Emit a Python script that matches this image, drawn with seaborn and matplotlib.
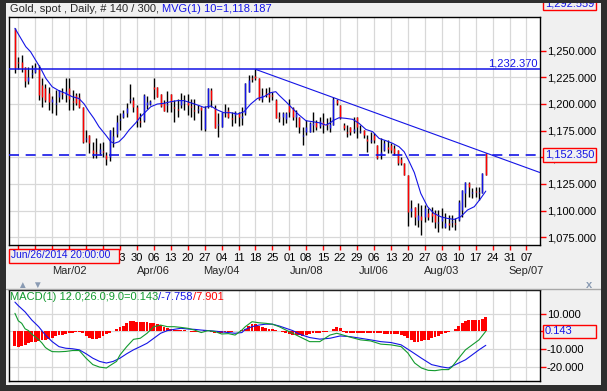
import matplotlib
matplotlib.use('Agg')
import numpy as np
import pandas as pd
import seaborn as sns
import matplotlib.pyplot as plt
from matplotlib.patches import Rectangle
from matplotlib.lines import Line2D

# ---- price bars (index 0 = Feb 09, one step per trading day) ----
bar_idx = list(range(-1, 139))
opens = [1270, 1239, 1239.5, 1235, 1221, 1228, 1230, 1233, 1217.6, 1214.5,
         1210, 1202, 1200, 1206.7, 1210, 1208, 1214.5, 1203, 1208, 1206.7,
         1197.3, 1167, 1170.8, 1156.7, 1155, 1153.6, 1156, 1152, 1150.4, 1165,
         1172, 1185, 1188, 1191, 1204, 1203.6, 1197.3, 1184, 1184.8, 1199,
         1200, 1216, 1215.4, 1209.2, 1201, 1199, 1209, 1197, 1195, 1198.9,
         1201, 1202, 1198, 1194, 1194, 1197, 1176, 1197.3, 1213, 1195.8,
         1180, 1178.6, 1193, 1194.2, 1187, 1189.5, 1191, 1187, 1191, 1211.4,
         1224, 1226, 1224, 1205, 1210, 1209, 1208, 1204, 1188, 1188,
         1186, 1198.9, 1195.8, 1188, 1188, 1170, 1174, 1173.9, 1180, 1183,
         1179, 1183, 1181, 1177, 1180, 1203.6, 1198.9, 1180, 1174, 1178.6,
         1175, 1188, 1174, 1175.5, 1167, 1165, 1171, 1161.4, 1152, 1156.7,
         1160, 1161, 1158.3, 1156.7, 1148, 1144.2, 1133.3, 1100, 1103.6, 1091.1,
         1094.8, 1094.2, 1097.3, 1098, 1097.3, 1088, 1090, 1084.8, 1088, 1089,
         1088, 1091.1, 1100.5, 1116.1, 1125.5, 1116, 1118, 1116, 1116.1, 1153.6]
highs = [1271, 1244, 1246, 1235, 1235, 1236, 1238, 1236, 1224, 1219,
         1216, 1207, 1213, 1213, 1214.5, 1224, 1224, 1213, 1210, 1210,
         1197.3, 1175.5, 1171, 1164.5, 1167.6, 1163, 1164.5, 1155, 1175.5, 1178.6,
         1189.5, 1191, 1194, 1200.5, 1219, 1206.7, 1199, 1191, 1209, 1207,
         1203.5, 1224.5, 1215.5, 1209.2, 1203.6, 1212, 1209.2, 1203.6, 1205, 1209.8,
         1208.3, 1209.2, 1205, 1205, 1198.9, 1197.3, 1198, 1215, 1214.5, 1198.9,
         1191, 1192.6, 1199.8, 1197.3, 1192.6, 1193.3, 1192.6, 1197.3, 1219.5, 1227,
         1227, 1232.4, 1224, 1214.5, 1214.5, 1215.4, 1211.4, 1205, 1192.6, 1192.6,
         1192.6, 1205, 1197.3, 1194.2, 1188, 1178.6, 1184.8, 1183.3, 1192.6, 1184.8,
         1188, 1191, 1186.4, 1188, 1206.7, 1205, 1198.9, 1181.7, 1180, 1178.6,
         1188, 1188, 1180, 1175.5, 1170.8, 1173.9, 1172.3, 1161.4, 1167.6, 1166,
         1166, 1163, 1161.4, 1156.7, 1150.4, 1144.2, 1133.3, 1109.8, 1103.6, 1106.7,
         1105.1, 1105.1, 1102, 1103.6, 1100.5, 1100.5, 1102, 1097.3, 1095.8, 1095.8,
         1092.6, 1109.8, 1119.2, 1127, 1127, 1120.8, 1122.3, 1122.3, 1134.8, 1153.6]
lows = [1229, 1233, 1230, 1216, 1219, 1224, 1229, 1203.6, 1197, 1202,
        1194, 1191, 1189.5, 1202, 1205, 1202, 1194, 1194, 1199, 1195.8,
        1163.5, 1164.5, 1153.6, 1149, 1149, 1152, 1150.4, 1142.7, 1146, 1159.8,
        1169.2, 1175.5, 1186.4, 1188, 1200.5, 1192.6, 1178.6, 1178.6, 1183, 1194.8,
        1199, 1205, 1206.5, 1197.3, 1193, 1192.6, 1192.6, 1182.6, 1188, 1195.8,
        1194.2, 1189.5, 1188, 1184.8, 1191, 1175.5, 1175, 1195.8, 1197.3, 1177,
        1169.2, 1178, 1188, 1186.4, 1179.2, 1181.7, 1179.2, 1180, 1190, 1211.4,
        1220.8, 1222, 1203.6, 1202, 1206.7, 1202, 1203.6, 1186.4, 1183, 1180.1,
        1181.7, 1188, 1184.8, 1178.6, 1172.3, 1161.4, 1170.8, 1173.9, 1173.9, 1175.5,
        1177, 1172.3, 1175.5, 1173.9, 1180, 1198.9, 1186, 1175.5, 1169.2, 1170.8,
        1172.3, 1167.6, 1172.3, 1167.6, 1155.1, 1163, 1163, 1148, 1148, 1156,
        1153.6, 1153.6, 1152, 1142.7, 1142.7, 1133, 1085.4, 1094.2, 1086.4, 1084.8,
        1077, 1089.5, 1091.1, 1089.5, 1083.3, 1080.1, 1083.3, 1083.3, 1081.7, 1084.8,
        1081.7, 1090, 1094.2, 1103.6, 1113, 1111.4, 1113, 1109.8, 1116, 1133.3]
closes = [1234, 1238, 1233.3, 1221, 1225.5, 1229, 1235, 1208, 1206.7, 1203.6,
          1202, 1205, 1201, 1213, 1209, 1212, 1205, 1202, 1200.5, 1197.3,
          1164.5, 1168, 1163, 1153.6, 1154, 1158, 1155, 1148, 1175.5, 1170,
          1183, 1186, 1191, 1196, 1205, 1197.3, 1184.8, 1183, 1208.3, 1202,
          1202.6, 1213.6, 1206.7, 1198, 1193.3, 1200, 1202, 1196, 1194, 1203.6,
          1202, 1198.9, 1197, 1193, 1195, 1194, 1196, 1214.5, 1203.6, 1177,
          1181, 1192.6, 1194, 1188, 1186, 1192, 1188, 1189, 1219.2, 1222.3,
          1223, 1224, 1205, 1208, 1209, 1206, 1207, 1187, 1187, 1191,
          1191, 1192.6, 1188, 1191, 1178.6, 1171, 1178, 1181.7, 1182, 1178,
          1184, 1180, 1180, 1181, 1205, 1200.5, 1186.4, 1177, 1173, 1173.9,
          1176, 1178.6, 1175, 1170.8, 1165, 1166, 1166, 1148.9, 1155, 1163,
          1158, 1157, 1153.6, 1144.2, 1145, 1133.3, 1098.9, 1102, 1094.2, 1095.8,
          1091.1, 1102, 1094.2, 1095, 1089.5, 1089, 1094, 1088, 1086.4, 1090,
          1087, 1108.3, 1119.2, 1127, 1122.3, 1117, 1117, 1117, 1134.8, 1133.3]

# 10 period moving average
ma_idx = [-1, 2.2, 3.6, 5.1, 6.6, 8.1, 10, 12, 14, 15.9,
          17.9, 19.4, 20.9, 22.3, 23.8, 25.8, 27.3, 28.3, 29.7, 31.2,
          32.7, 34.7, 36.1, 37.1, 39.1, 41, 43, 45, 47, 48.9,
          50.9, 52.9, 54.8, 56.8, 58.8, 60.7, 62.7, 64.7, 66.6, 68.6,
          70.6, 72.5, 74.5, 76, 77, 79, 80.9, 82.9, 84.9, 86.8,
          88.8, 90.8, 91.8, 93.2, 94.7, 96.7, 98.7, 100.6, 102.6, 104.6,
          106.5, 108.5, 110.5, 112.4, 113.9, 115.4, 116.9, 118.8, 120.8, 122.7,
          124.7, 126.7, 128.7, 130.6, 132.6, 134.6, 136.5, 138]
ma_val = [1270.8, 1253.6, 1248.9, 1241, 1233.3, 1224, 1216, 1212.3, 1209.8, 1206.7,
          1205, 1200, 1192.6, 1186.4, 1178.6, 1170.8, 1164.5, 1163, 1164.5, 1169.2,
          1175.5, 1182.3, 1188, 1191, 1197.3, 1199.8, 1200.5, 1202, 1203, 1203,
          1201, 1198.9, 1196.7, 1198, 1194.2, 1191.7, 1191.7, 1190.4, 1192.6, 1199.8,
          1205.1, 1206.7, 1210.5, 1211.4, 1208, 1202, 1195.8, 1189.5, 1184.2, 1183.3,
          1182.3, 1180.1, 1181.7, 1184.8, 1187, 1186.4, 1185.5, 1181.7, 1176, 1173.9,
          1167.6, 1165.5, 1163, 1159.8, 1155.1, 1145.8, 1135.6, 1116.1, 1103.6, 1097.3,
          1094.2, 1092.6, 1091.7, 1094.2, 1100.5, 1103.6, 1111.4, 1118.2]

trend_idx = [70, 154]
trend_val = [1232.37, 1135.6]
resist_level = 1232.37
last_price = 1152.35

price_ticks = [1075, 1100, 1125, 1150, 1175, 1200, 1225, 1250]
week_idx = list(range(0, 151, 5))
# the first six week labels sit under the date box, so they are left blank
week_labels = ['', '', '', '', '', '', '23', '30', '06', '13', '20', '27',
               '04', '11', '18', '25', '01', '08', '15', '22', '29', '06', '13', '20',
               '27', '03', '10', '17', '24', '31', '07']
month_idx = [15, 40, 60, 85, 105, 125, 150]
month_labels = ['Mar/02', 'Apr/06', 'May/04', 'Jun/08', 'Jul/06', 'Aug/03', 'Sep/07']

# ---- MACD panel ----
hist_val = [-8, -8.5, -8, -7.5, -6.5, -6, -6, -5.5, -5, -4.5,
            -4, -3.5, -2.5, -2, -2, -1.5, -1, -1, -0.5, -0.5,
            -1, -2.5, -3.5, -4, -4, -3.5, -2.5, -1.5, -1, 0.3,
            1.5, 2.5, 3, 5, 6, 6, 5.5, 5.5, 5.5, 5.5,
            5, 4.5, 4, 3.5, 2.5, 2, 1.5, 1, 1, 1,
            0.8, 0.5, -0.5, -0.5, -0.5, 0.5, 0.8, 0.5, -0.3, -1,
            -1, -1, -0.5, -0.5, -0.3, 0.3, 0.5, 1, 1.5, 3,
            4, 4, 3, 2.5, 2, 1.5, 1.2, 1, 0.5, -0.5,
            -1, -1.5, -2, -2, -2, -2.5, -2, -1.5, -1, -0.8,
            -0.8, -0.5, -0.5, 0.5, 1.5, 2.5, 2, -0.5, -0.8, -1,
            -1, -1, -1, -1, -1, -1, -1, -1, -1, -1.2,
            -1.2, -1.2, -1.5, -1.5, -2, -2.5, -3.5, -5, -6, -6,
            -5.5, -5, -4.5, -3.5, -3, -2.5, -1.5, -1, -0.5, 0.5,
            1.5, 3, 5, 6, 6.5, 6.5, 6.5, 6.5, 7, 7.9]
macd_idx = [-1, 0, 1, 2, 3, 4, 5, 6, 7, 8,
            9, 10, 12, 14, 16, 18, 20, 22, 24, 26,
            27, 29, 30, 32, 34, 36, 38, 40, 42, 44,
            46, 48, 50, 52, 54, 56, 58, 60, 62, 64,
            66, 67, 69, 71, 73, 75, 77, 79, 81, 83,
            86, 89, 92, 94, 95, 98, 101, 104, 107, 110,
            113, 115, 117, 119, 121, 123, 125, 127, 128, 130,
            132, 134, 136, 138]
macd_val = [10.2, 6, 4.6, 1.5, 0.5, -1.5, -3, -4.5, -6.5, -9,
            -10.3, -11.3, -11.4, -11.2, -10.7, -10.7, -15, -18.6, -20, -20.5,
            -19.2, -16.8, -13.2, -8.5, -4.4, -3.8, -1, 2.7, 3.6, 2.7,
            2.7, 2.3, 1.8, 0.8, -0.6, 0.5, 0, -1.4, -1.2, -2,
            0.8, 2.7, 5.5, 4.9, 4.6, 4.1, 2.7, 0.8, -1, -2.9,
            -5.7, -5.7, -2, -1, -1.5, -3.2, -4.7, -5.3, -7.1, -7.5,
            -8.5, -12.1, -17.7, -20.5, -21.8, -22, -21.4, -21.4, -19.9, -15,
            -10.3, -7.5, -4.7, 0.143]
sig_idx = [-1, 0, 2, 4, 6, 8, 10, 12, 14, 16,
           18, 20, 22, 24, 26, 28, 30, 32, 34, 36,
           38, 40, 42, 44, 46, 48, 50, 52, 54, 56,
           58, 60, 62, 64, 66, 67, 69, 71, 73, 75,
           77, 79, 81, 83, 86, 89, 92, 95, 98, 101,
           104, 107, 110, 113, 116, 119, 122, 125, 127, 128,
           130, 132, 134, 136, 138]
sig_val = [16.5, 14.5, 11, 6.4, 2.7, -2, -5.7, -8.5, -9.4, -9.7,
           -10.3, -12.5, -15, -16.8, -17.7, -16.8, -15, -12.5, -10.3, -8.5,
           -6.6, -3.8, -1, 0.5, 1.2, 1.8, 1.4, 1.2, 0.8, 0.5,
           0.2, -0.2, -0.6, -1, -0.6, 1.2, 2.7, 3.6, 4.1, 4.1,
           3.1, 1.8, 0.5, -1.5, -3.4, -4.3, -3.8, -2.5, -2.9, -3.8,
           -4.7, -5.7, -6.2, -7.5, -11.2, -15, -18.6, -19.9, -20.5, -19.6,
           -17.7, -15.9, -13.1, -10.3, -7.758]
macd_ticks = [-20, -10, 0, 10]

BG = '#f0f0f0'
BLUE = '#1414e6'
GREEN = '#129a2e'
GRID = '#d8d8d8'
FS = 8

sns.set_style('white')
plt.rcParams['font.family'] = ['Liberation Sans', 'DejaVu Sans']

W, H = 607, 391


def fx(px):
    return px / W


def fy(py):
    return 1 - py / H


fig = plt.figure(figsize=(W / 100, H / 100), dpi=100, facecolor=BG)

# ---------------- price panel ----------------
ax = fig.add_axes([fx(9), fy(245), 531 / W, 228 / H])
ax.set_facecolor('white')
ax.set_xlim(-2.75, 154.0)
ax.set_ylim(1067.7, 1281.4)
ax.set_xticks(week_idx)
ax.set_xticklabels(week_labels)
ax.set_yticks(price_ticks)
ax.set_yticklabels(['{:,.3f}'.format(v) for v in price_ticks])
ax.yaxis.tick_right()
ax.tick_params(axis='x', bottom=True, colors='red', labelcolor='black',
               length=3.5, width=1, labelsize=FS, pad=2)
ax.tick_params(axis='y', right=True, left=False, colors='red', labelcolor='black',
               length=4, width=1, labelsize=FS, pad=0.8)
ax.grid(True, color=GRID, lw=0.9)
ax.set_axisbelow(True)
for s in ax.spines.values():
    s.set_color('black')
    s.set_linewidth(1)

df = pd.DataFrame({'idx': bar_idx, 'open': opens, 'high': highs,
                   'low': lows, 'close': closes})
body_colors = np.where(df['close'] >= df['open'], BLUE, 'red')
ax.vlines(df['idx'], df['low'], df['high'], color='black', lw=1.0, zorder=2)
ax.vlines(df['idx'], df['open'], df['close'], colors=body_colors, lw=1.0, zorder=3)

sns.lineplot(x=ma_idx, y=ma_val, ax=ax, color=BLUE, lw=0.8, sort=False, zorder=4)
sns.lineplot(x=trend_idx, y=trend_val, ax=ax, color=BLUE, lw=0.8, sort=False, zorder=4)
ax.axhline(resist_level, color=BLUE, lw=1.1, zorder=4)
ax.axhline(last_price, color=BLUE, lw=1.2, ls=(0, (6, 4)), zorder=4)
ax.set_xlabel('')
ax.set_ylabel('')
ax.text(0.996, resist_level + 0.8, '{:,.3f}'.format(resist_level), color=BLUE,
        transform=ax.get_yaxis_transform(), ha='right', va='bottom', fontsize=FS)

for i, lab in zip(month_idx, month_labels):
    ax.text(i, -0.114, lab, transform=ax.get_xaxis_transform(), ha='center',
            va='center', fontsize=FS)

# ---------------- MACD panel ----------------
ax2 = fig.add_axes([fx(9), fy(381), 531 / W, 91 / H])
ax2.set_facecolor('white')
ax2.set_xlim(-2.75, 154.0)
ax2.set_ylim(-27.8, 23.3)
ax2.set_xticks(week_idx)
ax2.set_xticklabels([])
ax2.set_yticks(macd_ticks)
ax2.set_yticklabels(['{:.3f}'.format(v) for v in macd_ticks])
ax2.yaxis.tick_right()
ax2.tick_params(axis='x', length=0)
ax2.tick_params(axis='y', right=True, left=False, colors='red', labelcolor='black',
                length=4, width=1, labelsize=FS, pad=0.8)
ax2.grid(True, color=GRID, lw=0.9)
ax2.set_axisbelow(True)
for s in ax2.spines.values():
    s.set_color('black')
    s.set_linewidth(1)

ax2.bar(bar_idx, hist_val, width=0.85, color='red', lw=0, zorder=2)
sns.lineplot(x=sig_idx, y=sig_val, ax=ax2, color=BLUE, lw=0.8, sort=False, zorder=3)
sns.lineplot(x=macd_idx, y=macd_val, ax=ax2, color=GREEN, lw=0.8, sort=False, zorder=3)
ax2.set_xlabel('')
ax2.set_ylabel('')

# ---------------- header texts ----------------
t1 = fig.text(fx(10), fy(9), 'Gold, spot , Daily, # 140 / 300, ', fontsize=FS,
              va='center', ha='left')
ax.annotate('MVG(1) 10=1,118.187', xy=(1, 0), xycoords=t1, va='bottom', ha='left',
            color=BLUE, fontsize=FS, annotation_clip=False)

t3 = fig.text(fx(10), fy(297), 'MACD(1) 12.0;26.0;9.0=0.143', fontsize=FS,
              color=GREEN, va='center', ha='left', zorder=6)
t4 = ax2.annotate('/-7.758', xy=(1, 0), xycoords=t3, va='bottom', ha='left',
                  color=BLUE, fontsize=FS, annotation_clip=False)
ax2.annotate('/7.901', xy=(1, 0), xycoords=t4, va='bottom', ha='left',
             color='red', fontsize=FS, annotation_clip=False)


def boxed(x0, y0, x1, y1, text, color, size=FS):
    fig.patches.append(Rectangle((fx(x0), fy(y1)), (x1 - x0) / W, (y1 - y0) / H,
                                 transform=fig.transFigure, facecolor=BG,
                                 edgecolor='red', lw=1.0, zorder=5))
    fig.text(fx(x0 + 2), fy((y0 + y1) / 2), text, color=color, fontsize=size,
             ha='left', va='center', zorder=6)


boxed(543, -4, 596, 10, '1,292.559', BLUE)
boxed(543, 147.5, 596, 161.5, '{:,.3f}'.format(last_price), BLUE)
boxed(543, 324.5, 596, 338, '0.143', BLUE)
boxed(9, 248.5, 119, 262.5, 'Jun/26/2014 20:00:00', BLUE, size=7.4)

# splitter between the panels
fig.add_artist(Line2D([fx(6), fx(601)], [fy(289), fy(289)], color='#a8a8a8', lw=1))
fig.text(fx(22), fy(284.5), '\u25b2', color='#8a9bb3', fontsize=7, ha='center', va='center')
fig.text(fx(37), fy(284.5), '\u25bc', color='#8a9bb3', fontsize=7, ha='center', va='center')
fig.text(fx(589), fy(284.5), 'x', color='#8a9bb3', fontsize=8, fontweight='bold',
         ha='center', va='center')

# dark window frame
DARK = '#2e2e2e'
for (x0, y0, x1, y1) in [(0, 0, 6, H), (0, 0, W, 3), (601, 0, W, H), (0, 385, W, H)]:
    fig.patches.append(Rectangle((fx(x0), fy(y1)), (x1 - x0) / W, (y1 - y0) / H,
                                 transform=fig.transFigure, facecolor=DARK,
                                 edgecolor='none', zorder=10))

fig.savefig('out.png', dpi=100, facecolor=BG)
